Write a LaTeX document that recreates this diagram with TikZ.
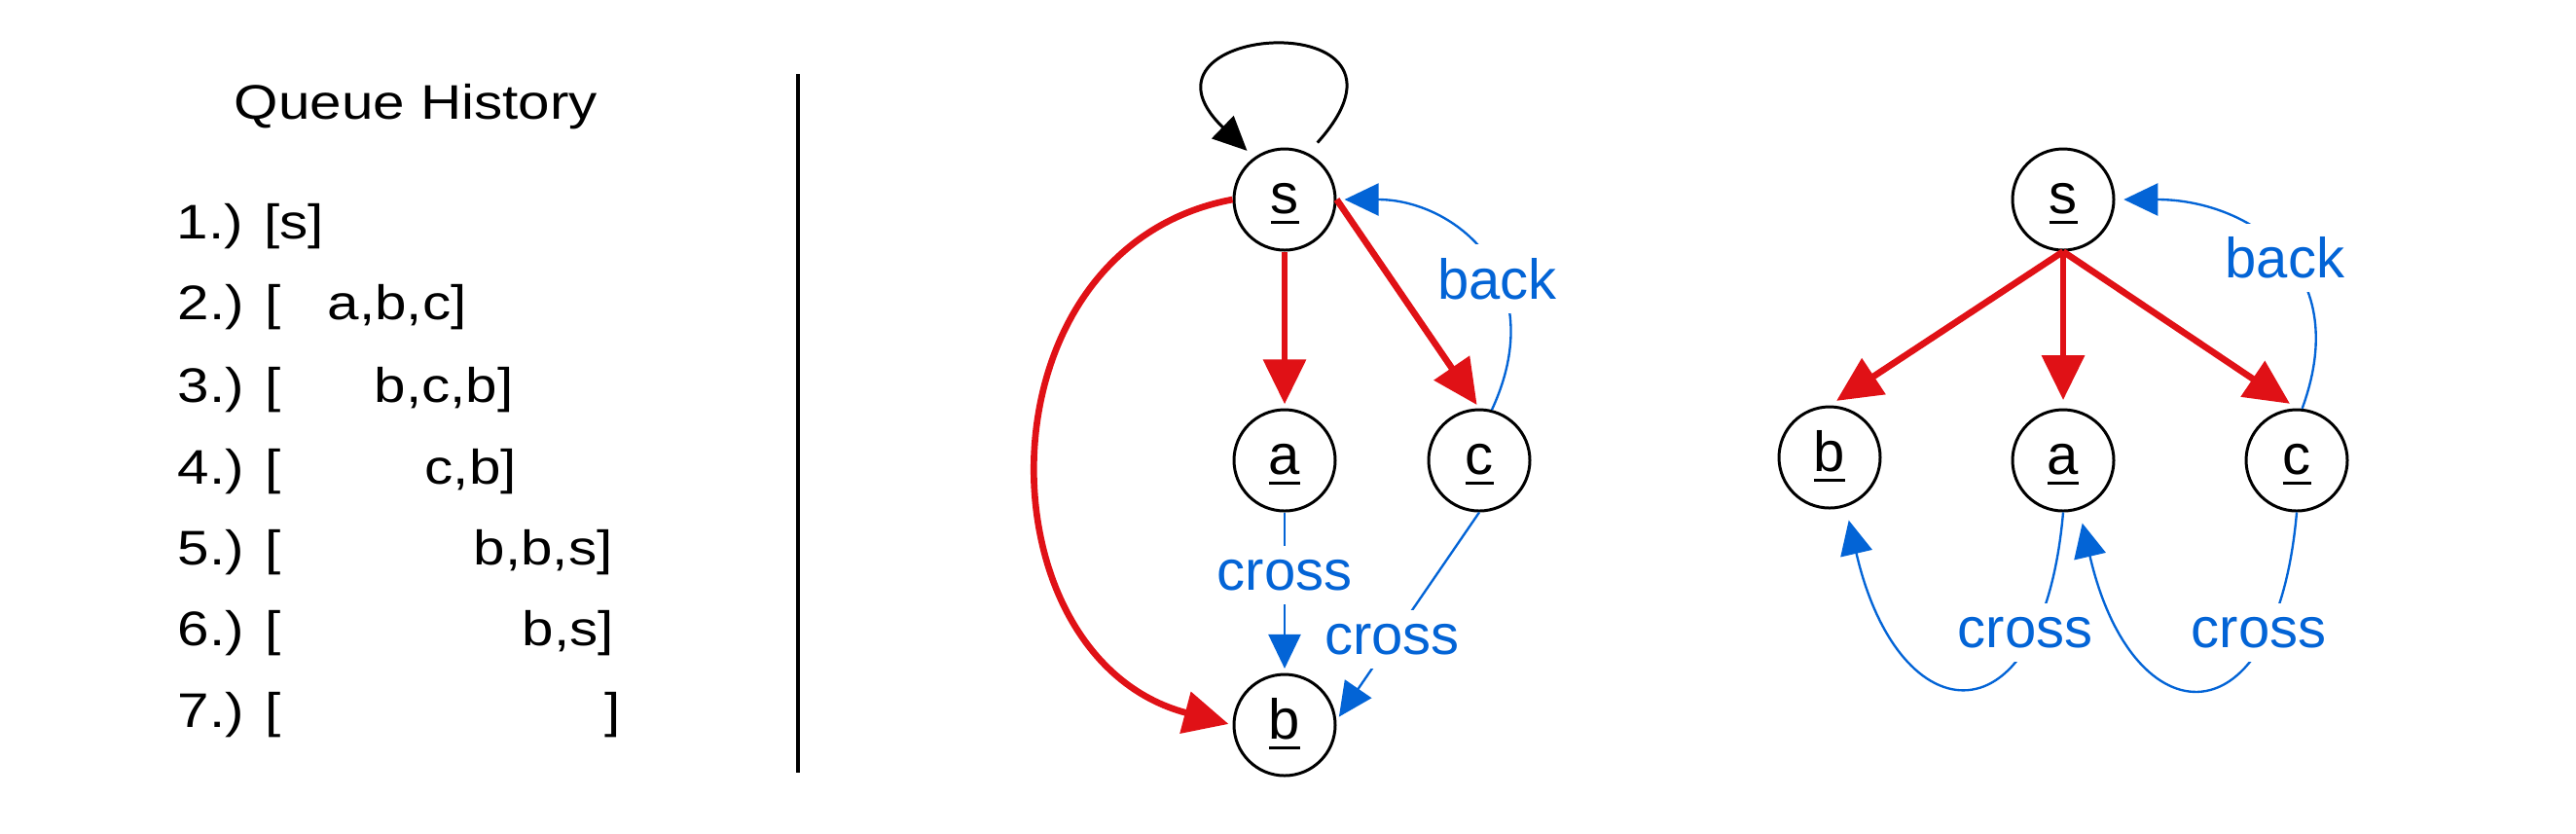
\documentclass[tikz,border=0pt]{standalone}
\usepackage{fontspec}
\setmainfont{Liberation Sans}
\newfontfamily\queuefont{Liberation Sans}[FakeStretch=1.17]
\usetikzlibrary{arrows.meta}
\definecolor{treered}{RGB}{224,17,22}
\definecolor{edgeblue}{RGB}{3,100,214}
\newcommand{\ulbl}[1]{\vtop{\hbox{#1}\kern1.9pt\hrule height 0.85pt}}

\begin{document}
\begin{tikzpicture}[
    vertex/.style={circle, draw, line width=0.85pt, minimum size=1.04cm, inner sep=0pt,
      text height=11pt, text depth=2.8pt, font=\fontsize{16.5}{19.8}\selectfont},
    treeedge/.style={treered, line width=1.9pt, -{Triangle[length=0.46cm, width=0.43cm]}},
    otheredge/.style={edgeblue, line width=0.67pt, -{Triangle[length=0.35cm, width=0.33cm]}},
    kind/.style={edgeblue, fill=white, inner sep=4pt, font=\fontsize{16.5}{19.8}\selectfont},
    queuerow/.style={anchor=base west, inner sep=0pt, font=\queuefont\fontsize{14.2}{17}\selectfont}
  ]
\useasboundingbox (0,0) rectangle (26.47,-8.56);

% queue history
\node[queuerow, anchor=base] (title) at (4.275,-1.22) {Queue History};
\node[queuerow] (r1) at (1.81,-2.45) {1.) [s]};
\node[queuerow] (r2) at (1.82,-3.28) {2.) [};
\node[queuerow] (q2) at (3.36,-3.28) {a,b,c]};
\node[queuerow] (r3) at (1.82,-4.13) {3.) [};
\node[queuerow] (q3) at (3.84,-4.13) {b,c,b]};
\node[queuerow] (r4) at (1.82,-4.97) {4.) [};
\node[queuerow] (q4) at (4.36,-4.97) {c,b]};
\node[queuerow] (r5) at (1.82,-5.80) {5.) [};
\node[queuerow] (q5) at (4.86,-5.80) {b,b,s]};
\node[queuerow] (r6) at (1.82,-6.63) {6.) [};
\node[queuerow] (q6) at (5.36,-6.63) {b,s]};
\node[queuerow] (r7) at (1.82,-7.47) {7.) [};
\node[queuerow] (q7) at (6.21,-7.47) {]};

\draw[line width=1.3pt] (8.20,-0.76) -- (8.20,-7.94);

% graph
\node[vertex] (s1) at (13.20,-2.05) {\ulbl{s}};
\node[vertex] (a1) at (13.20,-4.73) {\ulbl{a}};
\node[vertex] (c1) at (15.20,-4.73) {\ulbl{c}};
\node[vertex] (b1) at (13.20,-7.45) {\ulbl{b}};

\draw[black, line width=0.85pt, -{Triangle[length=0.35cm, width=0.32cm]}, shorten >=2.8pt]
  (s1.60) ++(60:0.14) .. controls +(48:1.95) and +(136:2.0) .. (s1.126);
\draw[treeedge, shorten >=1.2pt] (s1) -- (a1);
\draw[treeedge, shorten >=1.2pt] (s1.east) -- (c1.north);
\draw[treeedge, shorten >=1.2pt] (s1.west) .. controls +(-2.66,-0.50) and +(-2.62,0.69) .. (b1.west);
\draw[otheredge, shorten >=2.3pt] (c1.76) .. controls +(0.63,1.36) and +(1.2,0) .. node[kind, pos=0.4] {back} (s1.east);
\draw[otheredge, shorten >=1.3pt] (a1) -- node[kind, pos=0.39] {cross} (b1);
\draw[otheredge, shorten >=1.3pt] (c1.south) -- node[kind, pos=0.61] {cross} (b1.5);

% tree
\node[vertex] (s2) at (21.20,-2.05) {\ulbl{s}};
\node[vertex] (b2) at (18.80,-4.70) {\ulbl{b}};
\node[vertex] (a2) at (21.20,-4.73) {\ulbl{a}};
\node[vertex] (c2) at (23.60,-4.73) {\ulbl{c}};

\draw[treeedge, shorten >=2.4pt] (s2.south) -- (b2.north);
\draw[treeedge, shorten >=2.4pt] (s2.south) -- (a2.north);
\draw[treeedge, shorten >=2.4pt] (s2.south) -- (c2.north);
\draw[otheredge, shorten >=2.5pt] (c2.84) .. controls +(0.55,1.50) and +(1.3,0) .. node[kind, pos=0.46] {back} (s2.east);
\draw[otheredge, shorten >=4pt] (a2.south) .. controls +(-95:2.43) and +(-77:2.43) .. node[kind, pos=0.23, xshift=-0.07cm, yshift=0.04cm] {cross} (b2.-72);
\draw[otheredge, shorten >=4pt] (c2.south) .. controls +(-95:2.43) and +(-77:2.43) .. node[kind, pos=0.23, xshift=-0.07cm, yshift=0.04cm] {cross} (a2.-72);
\end{tikzpicture}
\end{document}
